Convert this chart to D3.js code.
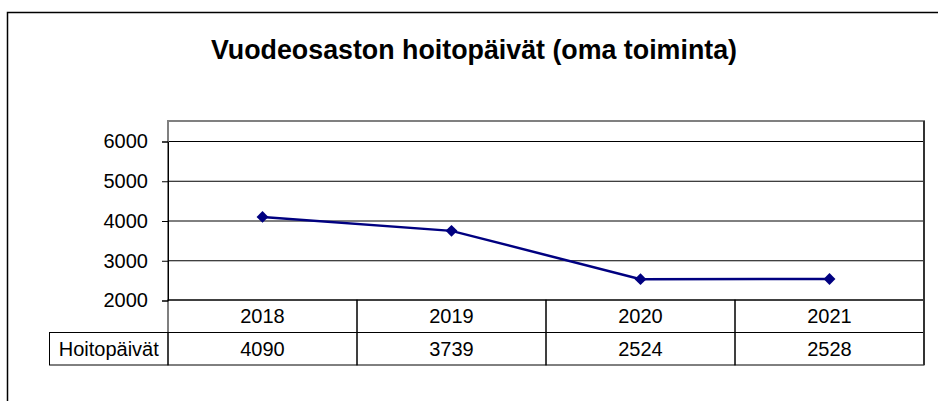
<!DOCTYPE html>
<html>
<head>
<meta charset="utf-8">
<script src="https://cdn.jsdelivr.net/npm/d3@7"></script>
<style>
  body { margin: 0; background: #ffffff; }
  svg { display: block; font-family: "Liberation Sans", Arial, sans-serif; }
</style>
</head>
<body>
<div id="chart"></div>
<script>
var years = ["2018", "2019", "2020", "2021"];
var hoitopaivat = [4090, 3739, 2524, 2528];
var yTicks = [2000, 3000, 4000, 5000, 6000];
var seriesName = "Hoitopäivät";
var title = "Vuodeosaston hoitopäivät (oma toiminta)";

drawChart();

function drawChart() {
    var w = 938, h = 401;
    var left = 168, right = 924, plotTop = 121, plotBottom = 300;
    var rowH = 32.5;
    var fs = "20px";

    var svg = d3.select("#chart").append("svg").attr("width", w).attr("height", h);

    // outer chart border (runs off the right and bottom edge)
    svg.append("rect").attr("x", 7.5).attr("y", 12.5).attr("width", 1000).attr("height", 500)
        .attr("fill", "none").attr("stroke", "#000").attr("stroke-width", 1.5);

    svg.append("text").attr("x", 474).attr("y", 59).attr("text-anchor", "middle")
        .attr("font-size", "26.8px").attr("font-weight", "bold").text(title);

    var x_scale = d3.scaleBand().domain(years).range([left, right]);
    var y_scale = d3.scaleLinear().domain([2000, 6000]).range([plotBottom, 141]);

    // gridlines
    svg.append("g").selectAll("line").data(yTicks).enter().append("line")
        .attr("x1", left).attr("x2", right)
        .attr("y1", d => y_scale(d) + 0.5).attr("y2", d => y_scale(d) + 0.5)
        .attr("stroke", "#000").attr("stroke-width", 1);

    // plot area border
    svg.append("rect").attr("x", left).attr("y", plotTop)
        .attr("width", right - left).attr("height", plotBottom - plotTop)
        .attr("fill", "none").attr("stroke", "#808080").attr("stroke-width", 2);

    // y axis
    var yAxis = svg.append("g").attr("transform", "translate(" + left + ",0.5)")
        .call(d3.axisLeft(y_scale).tickValues(yTicks).tickSize(6).tickPadding(14).tickFormat(d3.format("d")));
    yAxis.select(".domain").attr("stroke", "#000");
    yAxis.selectAll("line").attr("stroke", "#000");
    yAxis.selectAll("text").attr("font-size", fs).attr("fill", "#000")
        .attr("font-family", "Liberation Sans, Arial, sans-serif");

    // line + diamonds
    var pts = years.map((y, i) => [x_scale(y) + x_scale.bandwidth() / 2, y_scale(hoitopaivat[i])]);
    svg.append("path").attr("d", d3.line()(pts))
        .attr("fill", "none").attr("stroke", "#000080").attr("stroke-width", 2.5);
    svg.append("g").selectAll("path").data(pts).enter().append("path")
        .attr("d", d3.symbol().type(d3.symbolDiamond2).size(90))
        .attr("transform", d => "translate(" + d[0] + "," + d[1] + ")")
        .attr("fill", "#000080");

    // data table
    var tbl = svg.append("g");
    var t1 = plotBottom, t2 = plotBottom + rowH, t3 = plotBottom + 2 * rowH;
    tbl.append("rect").attr("x", 49.5).attr("y", t2).attr("width", left - 49.5).attr("height", rowH)
        .attr("fill", "none").attr("stroke", "#000").attr("stroke-width", 1);
    tbl.append("text").attr("x", (49.5 + left) / 2).attr("y", t2 + 23).attr("text-anchor", "middle")
        .attr("font-size", fs).text(seriesName);
    years.forEach(function (y, i) {
        var x0 = x_scale(y), bw = x_scale.bandwidth();
        tbl.append("rect").attr("x", x0).attr("y", t1).attr("width", bw).attr("height", rowH)
            .attr("fill", "none").attr("stroke", "#000").attr("stroke-width", 1);
        tbl.append("rect").attr("x", x0).attr("y", t2).attr("width", bw).attr("height", rowH)
            .attr("fill", "none").attr("stroke", "#000").attr("stroke-width", 1);
        tbl.append("text").attr("x", x0 + bw / 2).attr("y", t1 + 23).attr("text-anchor", "middle")
            .attr("font-size", fs).text(y);
        tbl.append("text").attr("x", x0 + bw / 2).attr("y", t2 + 23).attr("text-anchor", "middle")
            .attr("font-size", fs).text(hoitopaivat[i]);
    });
    tbl.append("line").attr("x1", right).attr("x2", right).attr("y1", plotTop).attr("y2", t3)
        .attr("stroke", "#333").attr("stroke-width", 2);
}
</script>
</body>
</html>
